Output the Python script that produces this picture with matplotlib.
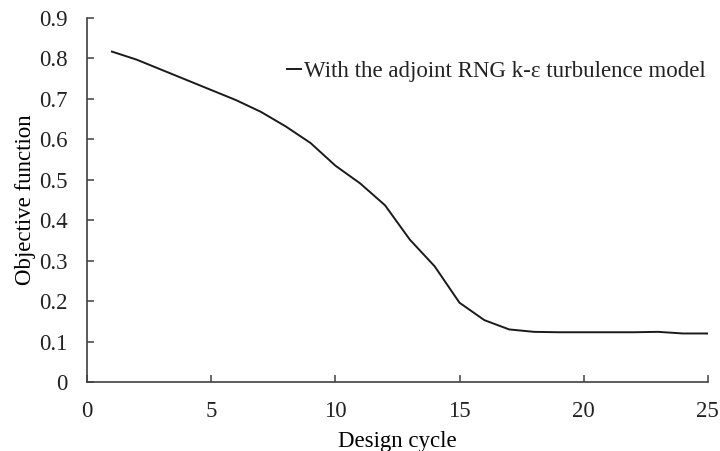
import matplotlib.pyplot as plt
import numpy as np

cycles = np.arange(1, 26)
objective = [0.817, 0.797, 0.772, 0.747, 0.722, 0.697, 0.668, 0.632, 0.591, 0.535,
             0.491, 0.437, 0.352, 0.286, 0.196, 0.153, 0.130, 0.124, 0.123, 0.123,
             0.123, 0.123, 0.124, 0.120, 0.120]
series_label = 'With the adjoint RNG k-\u03b5 turbulence model'

plt.rcParams['font.family'] = ['Liberation Serif', 'DejaVu Serif']
plt.rcParams['text.color'] = '#222222'
plt.rcParams['xtick.labelcolor'] = '#222222'
plt.rcParams['ytick.labelcolor'] = '#222222'

fig = plt.figure(figsize=(7.2, 4.51), dpi=100)
ax = fig.add_axes([0.121, 0.153, 0.862, 0.807])

ax.plot(cycles, objective, color='#1a1a1a', linewidth=1.4, label=series_label)

ax.set_xlim(0, 25)
ax.set_ylim(0, 0.9)
ax.set_xticks(np.arange(0, 26, 5))
ax.set_yticks(np.arange(0, 0.91, 0.1))
ax.set_yticklabels(['0'] + ['%.1f' % v for v in np.arange(0.1, 0.91, 0.1)])

for side in ['top', 'right']:
    ax.spines[side].set_visible(False)
for side in ['left', 'bottom']:
    ax.spines[side].set_color('#404040')
    ax.spines[side].set_linewidth(1.2)

ax.tick_params(direction='in', length=5, width=1.1, color='#404040', labelsize=16.5)
ax.tick_params(axis='y', pad=14)
ax.tick_params(axis='x', pad=14)

ax.set_xlabel('Design cycle', fontsize=16.5, labelpad=6)
ax.set_ylabel('Objective function', fontsize=16.5, labelpad=2)

ax.legend(frameon=False, loc='center right', bbox_to_anchor=(1.03, 0.854),
          handlelength=0.6, handletextpad=0.15, fontsize=16.5)

fig.savefig('out.png', dpi=100)
